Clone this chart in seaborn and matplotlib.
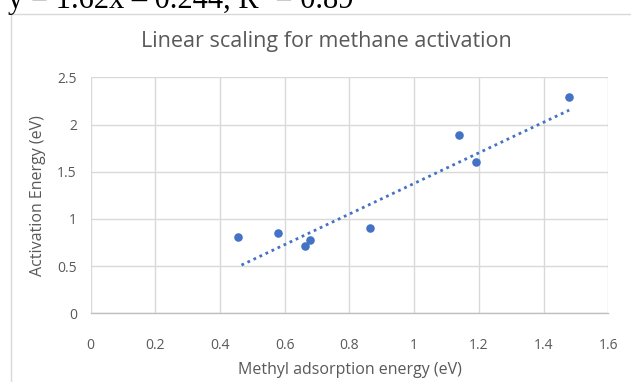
import matplotlib
matplotlib.use("Agg")
import matplotlib.pyplot as plt
import seaborn as sns
import pandas as pd
from matplotlib.patches import Rectangle

# Data
methyl_adsorption = [0.456, 0.580, 0.661, 0.678, 0.862, 1.138, 1.192, 1.479]
activation_energy = [0.808, 0.847, 0.716, 0.773, 0.900, 1.886, 1.606, 2.291]
trend_slope = 1.62
trend_intercept = -0.244
x_ticks = [0, 0.2, 0.4, 0.6, 0.8, 1, 1.2, 1.4, 1.6]
x_tick_labels = ["0", "0.2", "0.4", "0.6", "0.8", "1", "1.2", "1.4", "1.6"]
y_ticks = [0, 0.5, 1, 1.5, 2, 2.5]
y_tick_labels = ["0", "0.5", "1", "1.5", "2", "2.5"]
title = "Linear scaling for methane activation"
x_label = "Methyl adsorption energy (eV)"
y_label = "Activation Energy (eV)"
equation_text = "y = 1.62x \u2013 0.244, R\u00b2 = 0.89"

df = pd.DataFrame({"x": methyl_adsorption, "y": activation_energy})
x_ends = [min(methyl_adsorption) + 0.01, max(methyl_adsorption)]
trend_df = pd.DataFrame({"x": x_ends,
                         "y": [trend_slope * v + trend_intercept for v in x_ends]})

sns.set_theme(style="white")
plt.rcParams["font.family"] = ["Open Sans", "DejaVu Sans"]

blue = "#4472C4"
grey_text = "#595959"
grid_c = "#d9d9d9"

fig = plt.figure(figsize=(6.31, 3.82), dpi=100)
fig.patch.set_facecolor("white")

# chart border
fig.patches.append(Rectangle((11 / 631, -0.2), 1.2, 0.2 + 1 - 14 / 382,
                             transform=fig.transFigure, fill=False,
                             edgecolor=grid_c, linewidth=1.0, zorder=0))

ax = fig.add_axes([90.7 / 631, 1 - 313.3 / 382, (608.3 - 90.7) / 631, (313.3 - 77.3) / 382])

sns.lineplot(data=trend_df, x="x", y="y", ax=ax, color=blue,
             linestyle=(0, (1, 1.4)), linewidth=2.0, zorder=2)
sns.scatterplot(data=df, x="x", y="y", ax=ax, color=blue, s=38,
                linewidth=0, zorder=3)

ax.set_xlim(0, 1.6)
ax.set_ylim(0, 2.5)
ax.set_xticks(x_ticks)
ax.set_xticklabels(x_tick_labels)
ax.set_yticks(y_ticks)
ax.set_yticklabels(y_tick_labels)
ax.grid(True, color=grid_c, linewidth=1.0)
ax.set_axisbelow(True)
for s in ["top", "right", "left"]:
    ax.spines[s].set_visible(False)
ax.spines["bottom"].set_color("#bfbfbf")
ax.spines["bottom"].set_linewidth(1.0)
ax.tick_params(axis="x", length=0, pad=18, labelsize=10, labelcolor=grey_text)
ax.tick_params(axis="y", length=0, pad=10, labelsize=10, labelcolor=grey_text)

ax.set_xlabel(x_label, fontsize=11.5, color=grey_text, labelpad=6)
ax.set_ylabel(y_label, fontsize=11.5, color=grey_text, labelpad=8)

fig.text(326 / 631, 1 - 47 / 382, title, ha="center", va="baseline",
         fontsize=15.5, color=grey_text)

fig.text(8 / 631, 1 - 8 / 382, equation_text, ha="left", va="baseline",
         fontsize=22, color="black", family=["Liberation Serif", "DejaVu Serif"])

fig.savefig("out.png", dpi=100, facecolor="white")
